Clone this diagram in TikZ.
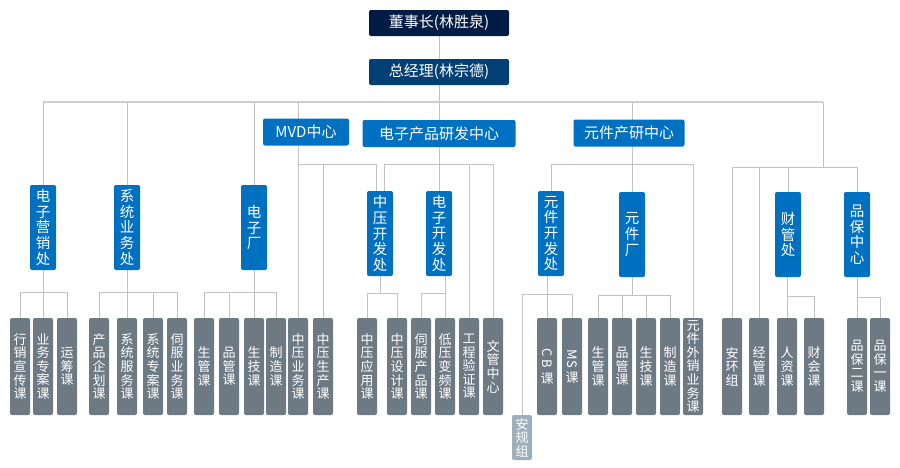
\documentclass[tikz,border=0pt]{standalone}
\usepackage{fontspec}
\setmainfont{Noto Sans CJK SC}
\usetikzlibrary{backgrounds}

\definecolor{chairblue}{HTML}{001B44}
\definecolor{gmblue}{HTML}{013F75}
\definecolor{unitblue}{HTML}{0070C0}
\definecolor{secgray}{HTML}{6D7A84}
\definecolor{secgraylt}{HTML}{9DAFBB}
\definecolor{linkgray}{HTML}{C2C2C2}

\tikzset{
  orgbox/.style={rounded corners=2pt, text=white, inner sep=0pt, align=center},
  headbox/.style={orgbox, fill=#1, minimum width=140pt, minimum height=26pt,
    font=\fontsize{15}{18}\selectfont},
  centerbox/.style={orgbox, fill=unitblue, minimum height=27pt,
    font=\fontsize{15}{18}\selectfont},
  deptbox/.style={orgbox, fill=unitblue, minimum width=26pt, minimum height=85pt,
    font=\fontsize{14.5}{15.6}\selectfont},
  secbox/.style={orgbox, fill=secgray, minimum width=20pt, minimum height=97pt,
    font=\fontsize{13}{13.6}\selectfont},
  link/.style={draw=linkgray, line width=1pt},
}

\begin{document}
\begin{tikzpicture}[x=1pt, y=-1pt]
  \useasboundingbox (0,0) rectangle (900,467);

  % top
  \node[headbox=chairblue] (chair) at (439,23) {董事长(林胜泉)};
  \node[headbox=gmblue] (gm) at (439,72) {总经理(林宗德)};

  % centres
  \node[centerbox, minimum width=86pt] (mvd) at (306,132) {MVD中心};
  \node[centerbox, minimum width=153pt] (rdc) at (439,133.5) {电子产品研发中心};
  \node[centerbox, minimum width=111pt] (cpc) at (629,133) {元件产研中心};

  % departments
  \node[deptbox] (mkt) at (43,227.5) {电\\子\\营\\销\\处};
  \node[deptbox] (sys) at (127,227.5) {系\\统\\业\\务\\处};
  \node[deptbox] (efab) at (254,227.5) {电\\子\\厂};
  \node[deptbox] (mvdev) at (380,233.5) {中\\压\\开\\发\\处};
  \node[deptbox] (edev) at (439,233.5) {电\\子\\开\\发\\处};
  \node[deptbox] (cdev) at (551,233.5) {元\\件\\开\\发\\处};
  \node[deptbox] (cfab) at (632,234.5) {元\\件\\厂};
  \node[deptbox] (fin) at (788,234.5) {财\\管\\处};
  \node[deptbox] (qa) at (857,234.5) {品\\保\\中\\心};

  % sections
  \node[secbox] (s1) at (20,366.5) {行\\销\\宣\\传\\课};
  \node[secbox] (s2) at (43,366.5) {业\\务\\专\\案\\课};
  \node[secbox] (s3) at (67,366.5) {运\\筹\\课};
  \node[secbox] (s4) at (99,366.5) {产\\品\\企\\划\\课};
  \node[secbox] (s5) at (127,366.5) {系\\统\\服\\务\\课};
  \node[secbox] (s6) at (153,366.5) {系\\统\\专\\案\\课};
  \node[secbox] (s7) at (177,366.5) {伺\\服\\业\\务\\课};
  \node[secbox] (s8) at (204,366.5) {生\\管\\课};
  \node[secbox] (s9) at (229,366.5) {品\\管\\课};
  \node[secbox] (s10) at (254,366.5) {生\\技\\课};
  \node[secbox] (s11) at (276,366.5) {制\\造\\课};
  \node[secbox] (s12) at (298,366.5) {中\\压\\业\\务\\课};
  \node[secbox] (s13) at (323,366.5) {中\\压\\生\\产\\课};
  \node[secbox] (s14) at (367,366.5) {中\\压\\应\\用\\课};
  \node[secbox] (s15) at (397,366.5) {中\\压\\设\\计\\课};
  \node[secbox] (s16) at (421,366.5) {伺\\服\\产\\品\\课};
  \node[secbox] (s17) at (445,366.5) {低\\压\\变\\频\\课};
  \node[secbox] (s18) at (469,366.5) {工\\程\\验\\证\\课};
  \node[secbox] (s19) at (493,366.5) {文\\管\\中\\心};
  \node[secbox, fill=secgraylt, minimum height=45pt] (agz) at (522,437.5) {安\\规\\组};
  \node[secbox] (s20) at (547,366.5) {\rotatebox{-90}{C B}\\[3pt]课};
  \node[secbox] (s21) at (572,366.5) {\rotatebox{-90}{MS}\\[3pt]课};
  \node[secbox] (s22) at (598,366.5) {生\\管\\课};
  \node[secbox] (s23) at (622,366.5) {品\\管\\课};
  \node[secbox] (s24) at (646,366.5) {生\\技\\课};
  \node[secbox] (s25) at (670,366.5) {制\\造\\课};
  \node[secbox] (s26) at (693,366.5) {元\\件\\外\\销\\业\\务\\课};
  \node[secbox] (s27) at (732,366.5) {安\\环\\组};
  \node[secbox] (s28) at (759,366.5) {经\\管\\课};
  \node[secbox] (s29) at (787,366.5) {人\\资\\课};
  \node[secbox] (s30) at (814,366.5) {财\\会\\课};
  \node[secbox] (s31) at (857,366.5) {品\\保\\二\\课};
  \node[secbox] (s32) at (880,366.5) {品\\保\\一\\课};

  \begin{scope}[on background layer]
    \coordinate (barR) at (823,102);
    \coordinate (rbus) at (823,167);
    \coordinate (mbus) at (0,164);
    \coordinate (bleft) at (0,292);
    \coordinate (bmv) at (0,293);
    \coordinate (bcd) at (0,294);
    \coordinate (bcf) at (0,295);
    \coordinate (bfin) at (0,296);
    \coordinate (bqa) at (0,297);

    % main bar
    \draw[link] (chair.south) -- (edev.north);
    \draw[link, line width=1.4pt, draw=linkgray!80] (mkt.north |- barR) -- (barR);
    \draw[link] (barR) -- (rbus);
    \draw[link] (mkt.north |- barR) -- (mkt.north);
    \draw[link] (sys.north |- barR) -- (sys.north);
    \draw[link] (efab.north |- barR) -- (efab.north);
    \draw[link] (s12.north |- barR) -- (s12.north);
    \draw[link] (cfab.north |- barR) -- (cfab.north);

    % centre buses
    \draw[link] (s12.north |- mbus) -| ([xshift=-4pt]mvdev.north);
    \draw[link] (s13.north |- mbus) -- (s13.north);
    \draw[link] ([xshift=4pt]mvdev.north) |- (mbus -| s19.north) -- (s19.north);
    \draw[link] (s18.north |- mbus) -- (s18.north);
    \draw[link] (cdev.north) |- (mbus -| s26.north) -- (s26.north);
    \draw[link] (s27.north) |- (rbus -| qa.north) -- (qa.north);
    \draw[link] (s28.north |- rbus) -- (s28.north);
    \draw[link] (fin.north |- rbus) -- (fin.north);

    % section buses
    \draw[link] (mkt.south) -- (mkt.south |- s2.north);
    \draw[link] (s1.north) |- (bleft -| s3.north) -- (s3.north);
    \draw[link] (sys.south) -- (sys.south |- s5.north);
    \draw[link] (s4.north) |- (bleft -| s7.north) -- (s7.north);
    \draw[link] (s6.north) -- (s6.north |- bleft);
    \draw[link] (efab.south) -- (efab.south |- s10.north);
    \draw[link] (s8.north) |- (bleft -| s11.north) -- (s11.north);
    \draw[link] (s9.north) -- (s9.north |- bleft);
    \draw[link] (mvdev.south) -- (mvdev.south |- bmv);
    \draw[link] (s14.north) |- (bmv -| s15.north) -- (s15.north);
    \draw[link] (edev.south -| s17.north) -- (s17.north);
    \draw[link] (s16.north) |- (bmv -| s17.north);
    \draw[link] (cdev.south -| s20.north) -- (s20.north);
    \draw[link] (agz.north) |- (bcd -| s21.north) -- (s21.north);
    \draw[link] (cfab.south) -- (cfab.south |- bcf);
    \draw[link] (s22.north) |- (bcf -| s25.north) -- (s25.north);
    \draw[link] (s23.north) -- (s23.north |- bcf);
    \draw[link] (s24.north) -- (s24.north |- bcf);
    \draw[link] (fin.south -| s29.north) -- (s29.north);
    \draw[link] (s29.north |- bfin) -| (s30.north);
    \draw[link] (qa.south -| s31.north) -- (s31.north);
    \draw[link] (s31.north |- bqa) -| (s32.north);
  \end{scope}
\end{tikzpicture}
\end{document}
